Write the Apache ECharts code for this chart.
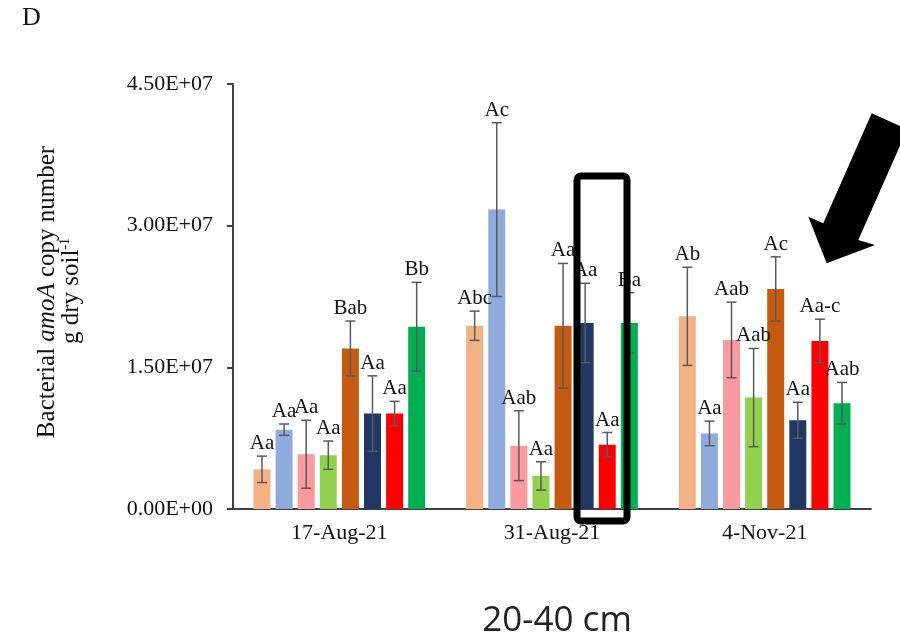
<!DOCTYPE html>
<html><head><meta charset="utf-8">
<script src="https://cdn.jsdelivr.net/npm/echarts@6/dist/echarts.min.js"></script>
<style>html,body{margin:0;padding:0;background:#fff}#c{width:900px;height:641px}</style>
</head><body><div id="c"></div>
<script>
// ---- data ----
const categories = ['17-Aug-21', '31-Aug-21', '4-Nov-21'];
const yMin = 0, yMax = 4.5e7, yInterval = 1.5e7;

const s1Values = [4.2e6, 19.4e6, 20.4e6];
const s2Values = [8.4e6, 31.7e6, 8.0e6];
const s3Values = [5.8e6, 6.7e6, 17.9e6];
const s4Values = [5.7e6, 3.5e6, 11.8e6];
const s5Values = [17.0e6, 19.4e6, 23.3e6];
const s6Values = [10.1e6, 19.7e6, 9.4e6];
const s7Values = [10.1e6, 6.8e6, 17.8e6];
const s8Values = [19.3e6, 19.7e6, 11.2e6];

const s1Err = [1.4e6, 1.55e6, 5.2e6];
const s2Err = [0.6e6, 9.2e6, 1.3e6];
const s3Err = [3.6e6, 3.7e6, 4.0e6];
const s4Err = [1.5e6, 1.5e6, 5.2e6];
const s5Err = [2.9e6, 6.6e6, 3.4e6];
const s6Err = [4.0e6, 4.2e6, 1.9e6];
const s7Err = [1.3e6, 1.3e6, 2.3e6];
const s8Err = [4.7e6, 3.2e6, 2.2e6];

const s1Labels = ['Aa', 'Abc', 'Ab'];
const s2Labels = ['Aa', 'Ac', 'Aa'];
const s3Labels = ['Aa', 'Aab', 'Aab'];
const s4Labels = ['Aa', 'Aa', 'Aab'];
const s5Labels = ['Bab', 'Aa', 'Ac'];
const s6Labels = ['Aa', 'Aa', 'Aa'];
const s7Labels = ['Aa', 'Aa', 'Aa-c'];
const s8Labels = ['Bb', 'Ba', 'Aab'];

// ---- build ----
const values = [s1Values, s2Values, s3Values, s4Values, s5Values, s6Values, s7Values, s8Values];
const errs = [s1Err, s2Err, s3Err, s4Err, s5Err, s6Err, s7Err, s8Err];
const labels = [s1Labels, s2Labels, s3Labels, s4Labels, s5Labels, s6Labels, s7Labels, s8Labels];
const colors = ['#F4B183', '#8FAADC', '#FA9A9E', '#92D050', '#C55A11', '#1F3864', '#FF0000', '#00B050'];

const SERIF = '"Liberation Serif", "Times New Roman", serif';
const BAR_W = 17, GAP_RATIO = 0.3;
const N = values.length;
function barOffset(i) {
  const gap = BAR_W * GAP_RATIO;
  const total = N * BAR_W + (N - 1) * gap;
  return -total / 2 + BAR_W / 2 + i * (BAR_W + gap);
}
function sci(v) {
  if (v === 0) return '0.00E+00';
  const e = Math.floor(Math.log10(Math.abs(v)));
  const m = v / Math.pow(10, e);
  return m.toFixed(2) + 'E' + (e >= 0 ? '+' : '-') + String(Math.abs(e)).padStart(2, '0');
}

const series = values.map((vals, i) => ({
  type: 'bar', name: 'T' + (i + 1), data: vals, barWidth: BAR_W, barGap: (GAP_RATIO * 100) + '%',
  itemStyle: { color: colors[i] }, z: 2
}));

const errData = [];
values.forEach((vals, i) => vals.forEach((v, j) => errData.push([j, v, errs[i][j]])));

series.push({
  type: 'custom', z: 5, data: errData, silent: true,
  renderItem(params, api) {
    const k = params.dataIndex, si = Math.floor(k / categories.length), ci = k % categories.length;
    const v = api.value(1), e = api.value(2);
    const x = api.coord([ci, 0])[0] + barOffset(si);
    const yT = api.coord([ci, v + e])[1], yB = api.coord([ci, v - e])[1];
    const st = { stroke: '#5a5a5a', lineWidth: 1.5 };
    return { type: 'group', children: [
      { type: 'line', shape: { x1: x, y1: yT, x2: x, y2: yB }, style: st },
      { type: 'line', shape: { x1: x - 5, y1: yT, x2: x + 5, y2: yT }, style: st },
      { type: 'line', shape: { x1: x - 5, y1: yB, x2: x + 5, y2: yB }, style: st },
      { type: 'text', x: x, y: yT - 2, style: { text: labels[si][ci], align: 'center', verticalAlign: 'bottom',
        font: '21px ' + SERIF, fill: '#111' } }
    ]};
  }
});

const chart = echarts.init(document.getElementById('c'), null, { renderer: 'canvas' });
chart.setOption({
  animation: false,
  backgroundColor: '#fff',
  grid: { left: 233, right: 29, top: 84, bottom: 132, containLabel: false },
  xAxis: {
    type: 'category', data: categories,
    axisLine: { lineStyle: { color: '#404040', width: 2 } },
    axisTick: { show: false },
    axisLabel: { margin: 13, color: '#111', fontFamily: SERIF, fontSize: 22 }
  },
  yAxis: {
    type: 'value', min: yMin, max: yMax, interval: yInterval,
    axisLine: { show: true, lineStyle: { color: '#404040', width: 2 } },
    axisTick: { show: true, length: 6, lineStyle: { color: '#404040', width: 2 } },
    splitLine: { show: false },
    axisLabel: { margin: 20, color: '#111', fontFamily: SERIF, fontSize: 22, formatter: sci }
  },
  series: series,
  graphic: [
    { type: 'text', left: 22, top: 5, style: { text: 'D', font: '26px ' + SERIF, fill: '#111' } },
    { type: 'text', x: 47, y: 292, rotation: Math.PI / 2,
      style: { text: 'Bacterial {i|amoA} copy number', align: 'center', verticalAlign: 'middle',
        font: '25px ' + SERIF, fill: '#111',
        rich: { i: { fontStyle: 'italic', fontFamily: SERIF, fontSize: 25 } } } },
    { type: 'text', x: 71, y: 291, rotation: Math.PI / 2,
      style: { text: 'g dry soil{s|-1}', align: 'center', verticalAlign: 'middle',
        font: '25px ' + SERIF, fill: '#111',
        rich: { s: { fontFamily: SERIF, fontSize: 14, verticalAlign: 'top', padding: [0, 0, 9, 0] } } } },
    { type: 'text', x: 557, y: 621,
      style: { text: '20-40 cm', align: 'center', verticalAlign: 'middle', font: '35px "Open Sans", "Noto Sans", sans-serif', fill: '#222' } },
    { type: 'rect', shape: { x: 577, y: 176, width: 50, height: 345, r: 4 },
      style: { fill: 'none', stroke: '#000', lineWidth: 7 }, z: 10 },
    { type: 'polygon', z: 10,
      shape: { points: [[826.7, 263.3], [875, 245], [858.3, 240], [907.3, 129.2], [871.7, 113.3], [823.3, 223.3], [808.3, 216.7]] },
      style: { fill: '#000' } }
  ]
});
</script>
</body></html>
